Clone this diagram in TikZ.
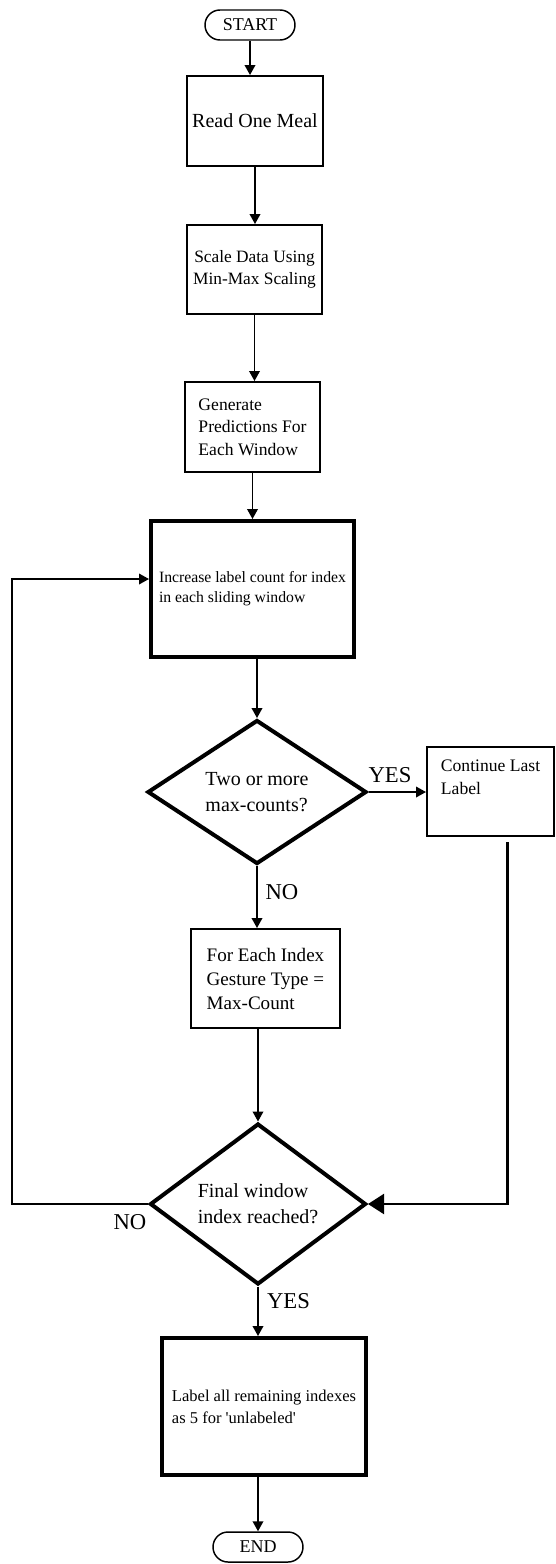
\documentclass[tikz,border=0pt]{standalone}
\usepackage{fontspec}
\setmainfont{Liberation Serif}
\usetikzlibrary{shapes.geometric,arrows.meta,calc}
\begin{document}
\begin{tikzpicture}[x=0.75pt,y=-0.75pt,
  thinbox/.style={draw, line width=1.5pt, rectangle, align=left, inner sep=0pt},
  thickbox/.style={draw, line width=3pt, rectangle, align=left, inner sep=0pt},
  term/.style={draw, line width=1.1pt, rectangle, rounded corners=11.25pt, minimum width=67.5pt, minimum height=22.5pt, inner sep=0pt, font=\fontsize{13.5pt}{16pt}\selectfont},
  decision/.style={draw, line width=3pt, diamond, align=left, inner sep=0pt, font=\fontsize{15pt}{19.75pt}\selectfont},
  arr/.style={line width=1.1pt, -{Triangle[length=7.5pt,width=8pt]}},
  bigarr/.style={line width=1.6pt, -{Triangle[length=12pt,width=15pt]}},
  lbl/.style={inner sep=0pt, font=\fontsize{17pt}{20pt}\selectfont}
]
\useasboundingbox (0,0) rectangle (556,1564);

\node[term] (start) at (250,25) {START};
\node[thinbox, minimum width=102pt, minimum height=67.5pt, font=\fontsize{15pt}{18pt}\selectfont] (read) at (255,121) {Read One Meal};
\node[thinbox, align=center, minimum width=101.25pt, minimum height=66.75pt, font=\fontsize{13pt}{16.5pt}\selectfont] (scale) at (254.5,269.5) {Scale Data Using\\Min-Max Scaling};
\node[thinbox, minimum width=101.25pt, minimum height=67.5pt, font=\fontsize{13.2pt}{16.9pt}\selectfont] (gen) at (252.5,427) {Generate\\Predictions For\\Each Window};
\node[thickbox, minimum width=152.25pt, minimum height=102pt, font=\fontsize{11.8pt}{15pt}\selectfont] (inc) at (252.5,589) {Increase label count for index\\in each sliding window};
\node[decision, minimum width=164.25pt, minimum height=108pt] (d1) at (257,792) {Two or more\\max-counts?};
\node[thinbox, minimum width=95.25pt, minimum height=66.75pt,
  label={[anchor=north west, align=left, inner sep=0pt, xshift=11pt, yshift=-10pt, font=\fontsize{13.2pt}{17.25pt}\selectfont]north west:Continue Last\\Label}] (cont) at (490.5,791.5) {};
\node[thinbox, minimum width=111.75pt, minimum height=74.25pt, font=\fontsize{14.3pt}{18pt}\selectfont] (fe) at (265.5,978.5) {For Each Index\\Gesture Type =\\Max-Count};
\node[decision, minimum width=162pt, minimum height=108.75pt] (d2) at (258,1204) {Final window\\index reached?};
\node[thickbox, minimum width=153pt, minimum height=102.75pt, font=\fontsize{12.4pt}{16.5pt}\selectfont] (last) at (264,1406.5) {Label all remaining indexes\\as 5 for \textquotesingle unlabeled\textquotesingle};
\node[term] (end) at (258,1547) {END};

\coordinate (loopx) at (12,0);

\draw[arr] (start.south) -- (start.south |- read.north);
\draw[arr] (read.south) -- (read.south |- scale.north);
\draw[arr] (scale.south) -- (scale.south |- gen.north);
\draw[arr] (gen.south) -- (gen.south |- inc.north);
\draw[arr] (d1.north |- inc.south) -- (d1.north);
\draw[arr] (d1.east) -- (d1.east -| cont.west);
\draw[arr] (d1.south) -- (d1.south |- fe.north);
\draw[arr] (d2.north |- fe.south) -- (d2.north);
\draw[bigarr] ([xshift=12.75pt,yshift=-3.75pt]cont.south) |- (d2.east);
\draw[arr] (d2.west) -- (d2.west -| loopx) |- ([yshift=7.5pt]inc.west);
\draw[arr] (d2.south) -- (d2.south |- last.north);
\draw[arr] (end.north |- last.south) -- (end.north);

\node[lbl] (yes1) at (390,775) {YES};
\node[lbl] (no1) at (282,892) {NO};
\node[lbl] (no2) at (130,1222) {NO};
\node[lbl] (yes2) at (288.5,1301) {YES};
\end{tikzpicture}
\end{document}
